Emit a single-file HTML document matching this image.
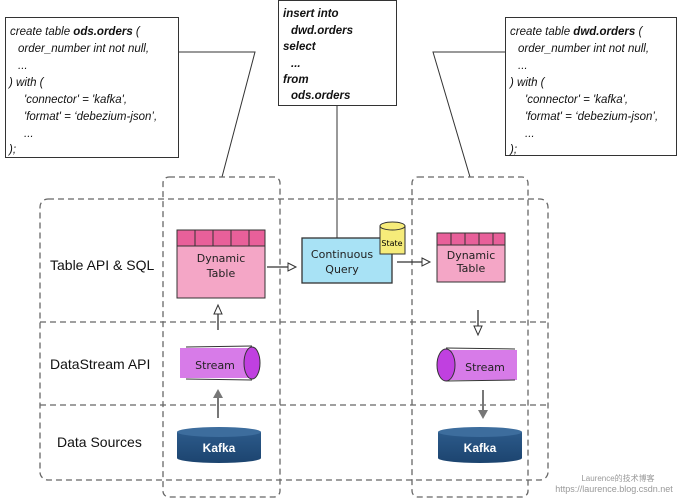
<!DOCTYPE html>
<html><head><meta charset="utf-8"><style>
body{margin:0;background:#fff;width:680px;height:500px;overflow:hidden}
svg{display:block}
.code{font-family:"Liberation Sans",sans-serif;font-style:italic;font-size:11.5px;fill:#111}
.lab{font-family:"Liberation Sans",sans-serif;font-size:14px;fill:#111}
.hand{font-family:"DejaVu Sans",sans-serif;font-size:11px;fill:#222}
</style></head><body>
<svg width="680" height="500" viewBox="0 0 680 500">
<defs>
<linearGradient id="kf" x1="0" x2="0" y1="0" y2="1"><stop offset="0" stop-color="#2c5a8a"/><stop offset="1" stop-color="#1c446f"/></linearGradient>
</defs>
<!-- code boxes -->
<rect x="5.5" y="17.5" width="173" height="140" fill="#fff" stroke="#333"/>
<text class="code" x="10" y="35">create table <tspan font-weight="bold">ods.orders</tspan> (</text>
<text class="code" x="18" y="52">order_number int not null,</text>
<text class="code" x="18" y="69">...</text>
<text class="code" x="9" y="86">) with (</text>
<text class="code" x="24" y="103">'connector' = 'kafka',</text>
<text class="code" x="24" y="120">'format' = ‘debezium-json’,</text>
<text class="code" x="24" y="137">...</text>
<text class="code" x="9" y="153">);</text>

<rect x="278.5" y="0.5" width="118" height="105" fill="#fff" stroke="#333"/>
<g class="code" font-weight="bold">
<text x="283" y="17">insert into</text>
<text x="291" y="34">dwd.orders</text>
<text x="283" y="50">select</text>
<text x="291" y="67">...</text>
<text x="283" y="83">from</text>
<text x="291" y="99">ods.orders</text>
</g>

<rect x="505.5" y="17.5" width="171" height="138" fill="#fff" stroke="#333"/>
<text class="code" x="510" y="35">create table <tspan font-weight="bold">dwd.orders</tspan> (</text>
<text class="code" x="518" y="52">order_number int not null,</text>
<text class="code" x="518" y="69">...</text>
<text class="code" x="510" y="86">) with (</text>
<text class="code" x="525" y="103">'connector' = 'kafka',</text>
<text class="code" x="525" y="120">'format' = ‘debezium-json’,</text>
<text class="code" x="525" y="137">...</text>
<text class="code" x="510" y="153">);</text>

<!-- connector lines -->
<polyline points="178,52 255,52 222,177" fill="none" stroke="#333"/>
<line x1="337" y1="105" x2="337" y2="238" stroke="#333"/>
<polyline points="505,52 433,52 470,177" fill="none" stroke="#333"/>

<!-- dashed frames -->
<g fill="none" stroke="#666" stroke-width="1.3" stroke-dasharray="6,4">
<rect x="40" y="199" width="508" height="281" rx="8"/>
<line x1="40" y1="322" x2="548" y2="322"/>
<line x1="40" y1="405" x2="548" y2="405"/>
<rect x="163" y="177" width="117" height="320" rx="6"/>
<rect x="412" y="177" width="116" height="320" rx="6"/>
</g>

<text class="lab" x="50" y="270">Table API &amp; SQL</text>
<text class="lab" x="50" y="369">DataStream API</text>
<text class="lab" x="57" y="447">Data Sources</text>

<!-- left dynamic table -->
<rect x="177" y="230" width="88" height="68" fill="#f4a6c6" stroke="#333"/>
<rect x="177" y="230" width="88" height="16" fill="#e8609a" stroke="#333"/>
<g stroke="#333"><line x1="195" y1="230" x2="195" y2="246"/><line x1="213" y1="230" x2="213" y2="246"/><line x1="231" y1="230" x2="231" y2="246"/><line x1="249" y1="230" x2="249" y2="246"/></g>
<text class="hand" x="221" y="262" text-anchor="middle">Dynamic</text>
<text class="hand" x="221" y="277" text-anchor="middle">Table</text>

<!-- arrow to CQ -->
<line x1="267" y1="267" x2="292" y2="267" stroke="#333" stroke-width="1.3"/>
<path d="M288,263 L296,267 L288,271 Z" fill="#fff" stroke="#333"/>

<!-- continuous query -->
<rect x="302" y="238" width="90" height="45" fill="#a8e2f5" stroke="#333" stroke-width="1.3"/>
<text class="hand" x="342" y="258" text-anchor="middle">Continuous</text>
<text class="hand" x="342" y="273" text-anchor="middle">Query</text>
<rect x="380" y="226" width="25" height="28" fill="#f6ec7a" stroke="#333"/>
<ellipse cx="392.5" cy="226" rx="12.5" ry="4" fill="#f6ec7a" stroke="#333"/>
<text x="392" y="246" text-anchor="middle" font-family="DejaVu Sans" font-size="8">State</text>

<line x1="397" y1="262" x2="425" y2="262" stroke="#333" stroke-width="1.3"/>
<path d="M422,258 L430,262 L422,266 Z" fill="#fff" stroke="#333"/>

<!-- right dynamic table -->
<rect x="437" y="233" width="68" height="49" fill="#f4a6c6" stroke="#333"/>
<rect x="437" y="233" width="68" height="12" fill="#e8609a" stroke="#333"/>
<g stroke="#333"><line x1="451" y1="233" x2="451" y2="245"/><line x1="465" y1="233" x2="465" y2="245"/><line x1="479" y1="233" x2="479" y2="245"/><line x1="493" y1="233" x2="493" y2="245"/></g>
<text class="hand" x="471" y="259" font-size="10" text-anchor="middle">Dynamic</text>
<text class="hand" x="471" y="272" font-size="10" text-anchor="middle">Table</text>

<!-- left arrows -->
<line x1="218" y1="330" x2="218" y2="312" stroke="#333" stroke-width="1.3"/>
<path d="M214,314 L218,305 L222,314 Z" fill="#fff" stroke="#333"/>
<line x1="218" y1="418" x2="218" y2="396" stroke="#777" stroke-width="2"/>
<path d="M213,398 L218,389 L223,398 Z" fill="#777"/>

<!-- left stream -->
<rect x="180" y="348" width="70" height="30" fill="#d77be8"/>
<line x1="186" y1="347" x2="252" y2="346" stroke="#333"/>
<line x1="186" y1="379" x2="252" y2="380" stroke="#333"/>
<ellipse cx="252" cy="363" rx="8" ry="16" fill="#c040e0" stroke="#333"/>
<text class="hand" x="215" y="369" font-size="13" text-anchor="middle">Stream</text>

<!-- right arrows -->
<line x1="478" y1="310" x2="478" y2="327" stroke="#333" stroke-width="1.3"/>
<path d="M474,326 L478,335 L482,326 Z" fill="#fff" stroke="#333"/>
<line x1="483" y1="390" x2="483" y2="412" stroke="#777" stroke-width="2"/>
<path d="M478,410 L483,419 L488,410 Z" fill="#777"/>

<!-- right stream -->
<rect x="445" y="350" width="72" height="30" fill="#d77be8"/>
<line x1="446" y1="348" x2="515" y2="349" stroke="#333"/>
<line x1="446" y1="381" x2="515" y2="380" stroke="#333"/>
<ellipse cx="446" cy="365" rx="9" ry="16" fill="#c040e0" stroke="#333"/>
<text class="hand" x="485" y="371" font-size="13" text-anchor="middle">Stream</text>

<!-- kafka -->
<path d="M177,432 L177,458 A42,5 0 0 0 261,458 L261,432 Z" fill="url(#kf)"/>
<ellipse cx="219" cy="432" rx="42" ry="5" fill="#3d6d9d"/>
<text x="219" y="452" text-anchor="middle" font-family="Liberation Sans" font-weight="bold" font-size="12" fill="#fff">Kafka</text>
<path d="M438,432 L438,458 A42,5 0 0 0 522,458 L522,432 Z" fill="url(#kf)"/>
<ellipse cx="480" cy="432" rx="42" ry="5" fill="#3d6d9d"/>
<text x="480" y="452" text-anchor="middle" font-family="Liberation Sans" font-weight="bold" font-size="12" fill="#fff">Kafka</text>

<text x="618" y="481" text-anchor="middle" font-family="Liberation Sans, WenQuanYi Zen Hei, sans-serif" font-size="8" fill="#999">Laurence的技术博客</text>
<text x="614" y="492" text-anchor="middle" font-family="Liberation Sans, sans-serif" font-size="9" fill="#999">https://laurence.blog.csdn.net</text>
</svg>
</body></html>
